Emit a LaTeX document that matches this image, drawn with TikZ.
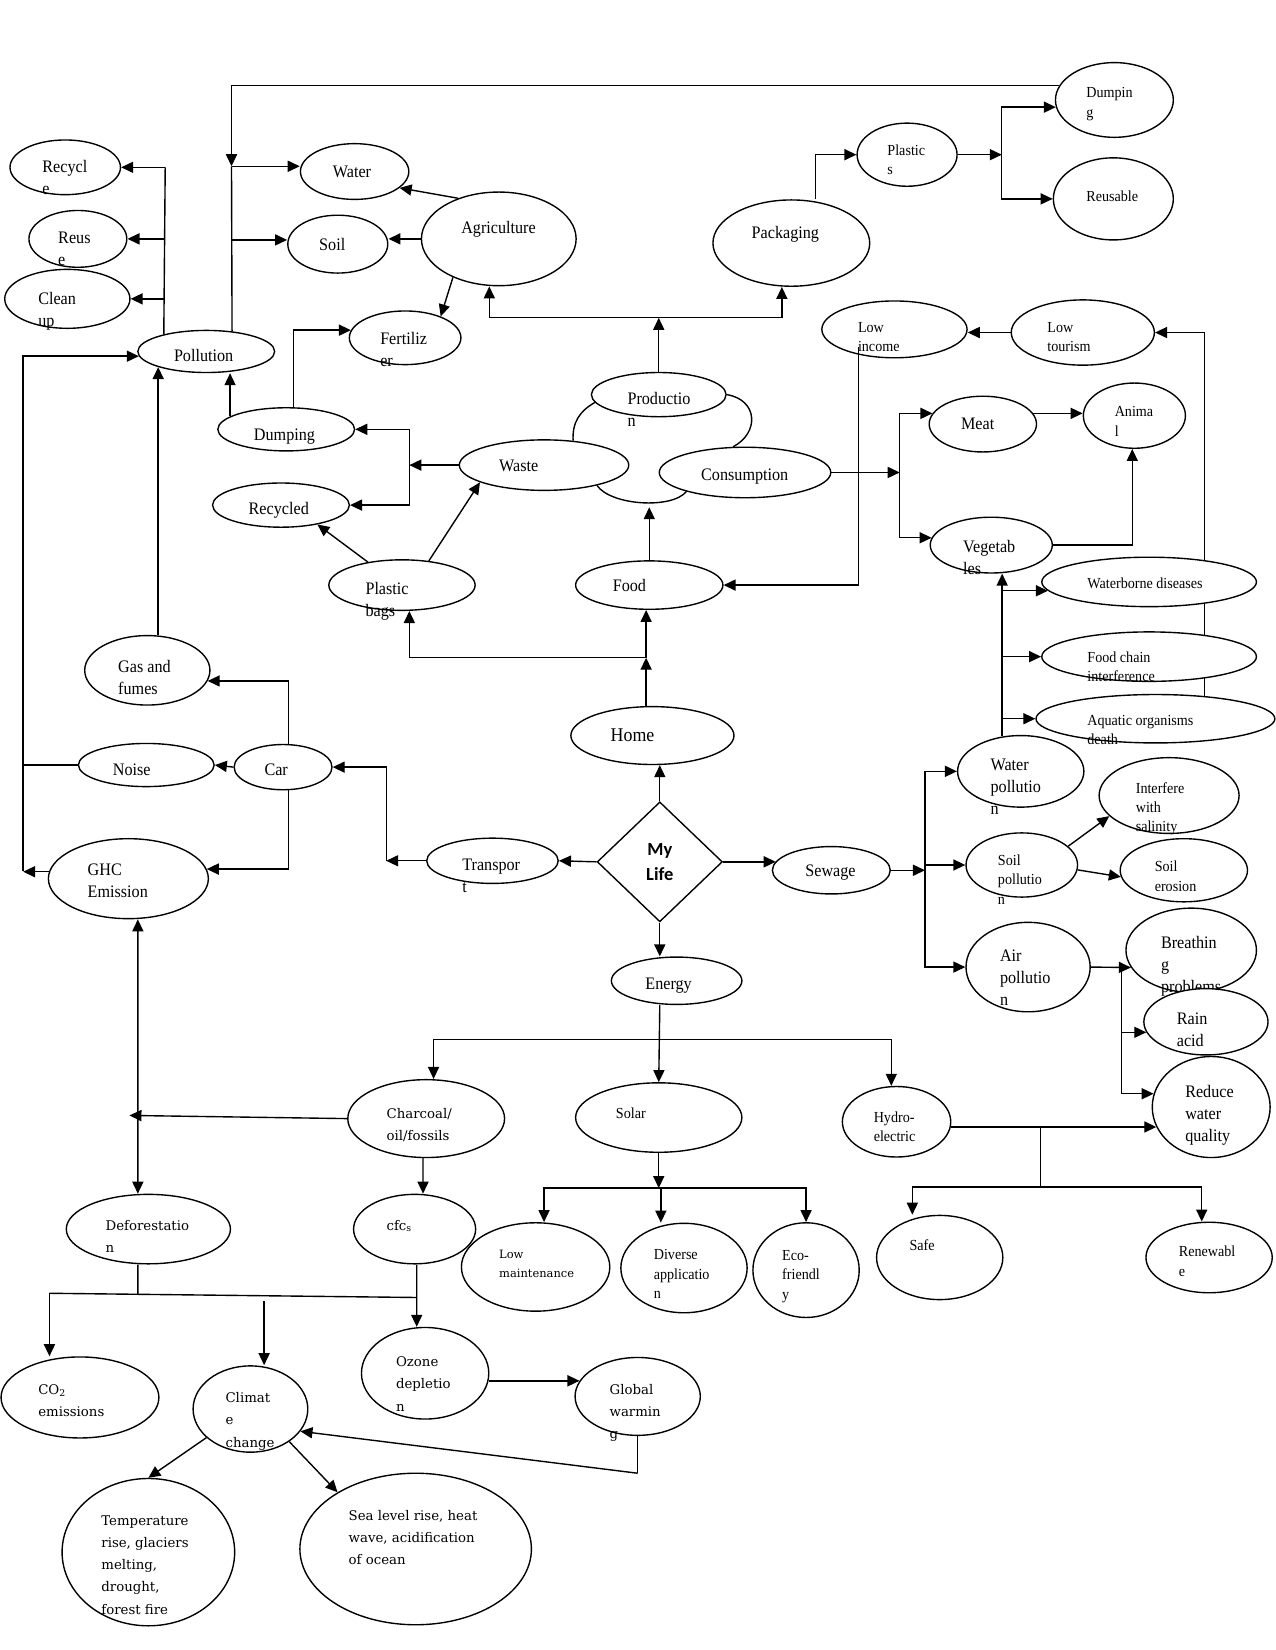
\documentclass[tikz,border=0pt]{standalone}
\usepackage{fontspec}
\newfontfamily\libser{Liberation Serif}[FakeStretch=0.92]
\newfontfamily\dvser{DejaVu Serif}
\newfontfamily\carl{Carlito}
\usetikzlibrary{shapes.geometric, arrows.meta, backgrounds}

\begin{document}
\begin{tikzpicture}[x=0.02cm, y=-0.02cm,
        bub/.style 2 args={ellipse, draw, fill=white, line width=0.75pt, inner sep=0pt, minimum width=#1*0.02cm, minimum height=#2*0.02cm},
        tb/.style={anchor=north west, inner sep=0pt, align=left, font=\libser\fontsize{9.5}{11.9}\selectfont},
        ts/.style={anchor=north west, inner sep=0pt, align=left, font=\libser\fontsize{8.3}{10.5}\selectfont},
        td/.style={anchor=north west, inner sep=0pt, align=left, font=\dvser\fontsize{7.2}{12}\selectfont},
        line/.style={draw, line width=0.75pt},
        arr/.style={line, -{Triangle[length=6.5pt, width=6pt]}}]

    \useasboundingbox (0,0) rectangle (1212,1568);

    % upper part
    \node [bub={112}{71}] (dumpT) at (1059,95) {};
    \node [ts] (t-dumpT) at (1032,83) {Dumpin\\g};
    \node [bub={114}{78}] (reusable) at (1058,189) {};
    \node [ts] (t-reusable) at (1032,181) {Reusable};
    \node [bub={95}{60}] (plastics) at (862,147) {};
    \node [ts] (t-plastics) at (843,137) {Plastic\\s};
    \node [bub={149}{82}] (packaging) at (752,231) {};
    \node [tb] (t-packaging) at (714,215) {Packaging};
    \node [bub={147}{89}] (agri) at (474,227) {};
    \node [tb] (t-agri) at (438,210) {Agriculture};
    \node [bub={103}{53}] (water) at (337,163) {};
    \node [tb] (t-water) at (316,157) {Water};
    \node [bub={95}{55}] (soil) at (321,232) {};
    \node [tb] (t-soil) at (303,226) {Soil};
    \node [bub={105}{52}] (recycle) at (62,159) {};
    \node [tb] (t-recycle) at (40,152) {Recycl\\e};
    \node [bub={93}{54}] (reuse) at (74,227) {};
    \node [tb] (t-reuse) at (55,220) {Reus\\e};
    \node [bub={119}{56}] (cleanup) at (64,284) {};
    \node [tb] (t-cleanup) at (36,277) {Clean\\up};
    \node [bub={130}{40}] (pollution) at (196,334) {};
    \node [tb] (t-pollution) at (165,332) {Pollution};
    \node [bub={106}{51}] (fert) at (385,321) {};
    \node [tb] (t-fert) at (361,315) {Fertiliz\\er};
    \node [bub={138}{54}] (lowinc) at (850,313) {};
    \node [ts] (t-lowinc) at (815,306) {Low\\income};
    \node [bub={136}{62}] (lowtour) at (1029,316) {};
    \node [ts] (t-lowtour) at (995,306) {Low\\tourism};

    % middle part
    \node [bub={128}{42}] (prod) at (626,375) {};
    \node [tb] (t-prod) at (596,372) {Productio\\n};
    \node [bub={130}{41}] (dumpL) at (272,408) {};
    \node [tb] (t-dumpL) at (241,407) {Dumping};
    \node [bub={161}{48}] (waste) at (517,442) {};
    \node [tb] (t-waste) at (474,437) {Waste};
    \node [bub={163}{48}] (consum) at (708,449) {};
    \node [tb] (t-consum) at (666,445) {Consumption};
    \node [bub={130}{42}] (recycled) at (267,480) {};
    \node [tb] (t-recycled) at (236,477) {Recycled};
    \node [bub={102}{53}] (meat) at (934,403) {};
    \node [tb] (t-meat) at (913,397) {Meat};
    \node [bub={97}{62}] (animal) at (1078,395) {};
    \node [ts] (t-animal) at (1059,386) {Anima\\l};
    \node [bub={116}{53}] (veg) at (942,518) {};
    \node [tb] (t-veg) at (915,513) {Vegetab\\les};
    \node [bub={139}{48}] (pbags) at (382,556) {};
    \node [tb] (t-pbags) at (347,553) {Plastic\\bags};
    \node [bub={140}{46}] (food) at (617,556) {};
    \node [tb] (t-food) at (582,550) {Food};
    \node [bub={204}{47}] (wborne) at (1092,553) {};
    \node [ts] (t-wborne) at (1033,549) {Waterborne diseases};
    \node [bub={204}{47}] (fchain) at (1092,624) {};
    \node [ts] (t-fchain) at (1033,619) {Food chain\\interference};
    \node [bub={227}{46}] (aquatic) at (1098,683) {};
    \node [ts] (t-aquatic) at (1033,679) {Aquatic organisms\\death};
    \node [bub={119}{66}] (gas) at (140,637) {};
    \node [tb] (t-gas) at (112,627) {Gas and\\fumes};
    \node [bub={155}{55}] (home) at (620,699) {};
    \node [tb, font=\libser\fontsize{10.5}{12}\selectfont] (t-home) at (580,692) {Home};
    \node [bub={129}{41}] (noise) at (139,727) {};
    \node [tb] (t-noise) at (107,726) {Noise};
    \node [bub={93}{43}] (car) at (269,729) {};
    \node [tb] (t-car) at (251,726) {Car};
    \node [bub={120}{68}] (wpoll) at (970,733) {};
    \node [tb] (t-wpoll) at (941,721) {Water\\pollutio\\n};
    \node [bub={133}{72}] (interfere) at (1111,756) {};
    \node [ts] (t-interfere) at (1079,743) {Interfere\\with\\salinity};
    \node [diamond, draw, fill=white, line width=0.75pt, inner sep=0pt, minimum width=119*0.02cm, minimum height=114*0.02cm, align=center, font=\carl\bfseries\fontsize{10}{13.6}\selectfont] (mylife) at (627,819) {My\\Life};
    \node [bub={125}{43}] (transport) at (468,818) {};
    \node [tb] (t-transport) at (439,816) {Transpor\\t};
    \node [bub={112}{45}] (sewage) at (790,827) {};
    \node [tb] (t-sewage) at (765,822) {Sewage};
    \node [bub={152}{76}] (ghc) at (122,835) {};
    \node [tb] (t-ghc) at (83,821) {GHC\\Emission};
    \node [bub={106}{61}] (spoll) at (971,822) {};
    \node [ts] (t-spoll) at (948,812) {Soil\\pollutio\\n};
    \node [bub={121}{60}] (serosion) at (1125,827) {};
    \node [ts] (t-serosion) at (1097,818) {Soil\\erosion};
    \node [bub={118}{85}] (airpoll) at (977,919) {};
    \node [tb] (t-airpoll) at (950,902) {Air\\pollutio\\n};
    \node [bub={124}{80}] (breath) at (1132,903) {};
    \node [tb] (t-breath) at (1103,889) {Breathin\\g\\problems};
    \node [bub={118}{63}] (rain) at (1146,971) {};
    \node [tb] (t-rain) at (1118,962) {Rain\\acid};
    \node [bub={112}{96}] (reduce) at (1151,1052) {};
    \node [tb] (t-reduce) at (1126,1031) {Reduce\\water\\quality};
    \node [bub={124}{45}] (energy) at (643,932) {};
    \node [tb] (t-energy) at (613,929) {Energy};

    % lower part
    \node [bub={149}{74}] (charcoal) at (405,1063) {};
    \node [td] (t-charcoal) at (367,1053) {Charcoal/\\oil/fossils};
    \node [bub={158}{66}] (solar) at (626,1062) {};
    \node [ts] (t-solar) at (585,1052) {Solar};
    \node [bub={103}{67}] (hydro) at (852,1066) {};
    \node [ts] (t-hydro) at (830,1056) {Hydro-\\electric};
    \node [bub={156}{66}] (defor) at (141,1168) {};
    \node [td] (t-defor) at (100,1159) {Deforestatio\\n};
    \node [bub={116}{66}] (cfcs) at (394,1168) {};
    \node [td] (t-cfcs) at (367,1159) {cfc\textsubscript{s}};
    \node [bub={141}{84}] (lowmaint) at (509,1204) {};
    \node [td, font=\dvser\fontsize{6.2}{10.3}\selectfont] (t-lowmaint) at (474,1188) {Low\\maintenance};
    \node [bub={120}{85}] (diverse) at (650,1205) {};
    \node [ts] (t-diverse) at (621,1187) {Diverse\\applicatio\\n};
    \node [bub={101}{90}] (eco) at (766,1207) {};
    \node [ts] (t-eco) at (743,1188) {Eco-\\friendl\\y};
    \node [bub={120}{80}] (safe) at (893,1195) {};
    \node [ts] (t-safe) at (864,1178) {Safe};
    \node [bub={120}{67}] (renew) at (1149,1195) {};
    \node [ts] (t-renew) at (1120,1184) {Renewabl\\e};
    \node [bub={150}{77}] (co2) at (76,1328) {};
    \node [td] (t-co2) at (36,1315) {CO\textsubscript{2}\\emissions};
    \node [bub={109}{82}] (climate) at (238,1339) {};
    \node [td] (t-climate) at (214,1323) {Climat\\e\\change};
    \node [bub={121}{87}] (ozone) at (404,1305) {};
    \node [td] (t-ozone) at (376,1289) {Ozone\\depletio\\n};
    \node [bub={119}{74}] (global) at (606,1327) {};
    \node [td] (t-global) at (579,1315) {Global\\warmin\\g};
    \node [bub={164}{140}] (temp) at (141,1475) {};
    \node [td] (t-temp) at (96,1440) {Temperature\\rise, glaciers\\melting,\\drought,\\forest fire};
    \node [bub={220}{144}] (sea) at (395,1472) {};
    \node [td] (t-sea) at (331,1435) {Sea level rise, heat\\wave, acidification\\of ocean};

    % junctions
    \coordinate (jw) at (220,158);
    \coordinate (js) at (220,228);
    \coordinate (jr) at (157,159);
    \coordinate (pj) at (628,302);
    \coordinate (pk) at (952,147);
    \coordinate (wj) at (389,442);
    \coordinate (fc) at (614,482);
    \coordinate (cj) at (855,449);
    \coordinate (wv) at (wpoll.118);
    \coordinate (hj) at (614,625);
    \coordinate (tj) at (367,818);
    \coordinate (lb) at (22,828);
    \coordinate (sj) at (879,822);
    \coordinate (aj) at (1066,919);
    \coordinate (hyj) at (989,1071);
    \coordinate (hyb) at (989,1128);
    \coordinate (ej) at (627,988);
    \coordinate (soj) at (628,1129);
    \coordinate (cl) at (123,1060);
    \coordinate (dj) at (131,1230);
    \coordinate (dl) at (47,1229);
    \coordinate (dr) at (396,1233);
    \coordinate (dc) at (251,1236);
    \coordinate (gj) at (606,1400);

    \begin{scope}[on background layer]
        \path [arr] (aquatic.25) |- (lowtour.east);
    \end{scope}

    \path [arr] (dumpT.165) -| (jw);
    \path [line] (pollution.38) -- (jw);
    \path [arr] (jw) -- (jw -| water.west);
    \path [arr] (js) -- (js -| soil.west);
    \path [line] (pollution.158) -- (jr);
    \path [arr] (jr) -- (jr -| recycle.east);
    \path [arr] (jr |- reuse.east) -- (reuse.east);
    \path [arr] (jr |- cleanup.east) -- (cleanup.east);
    \path [arr] (agri.135) -- (water.340);
    \path [arr] (agri.west) -- (agri.west -| soil.east);
    \path [arr] (agri.220) -- (fert.31);
    \path [arr] (prod.north) -- (prod.north |- pj);
    \path [arr] (pj) -| ([xshift=-0.18cm]agri.south);
    \path [arr] (pj) -| ([xshift=-0.18cm]packaging.south);
    \path [arr] ([xshift=0.46cm]packaging.north) |- (plastics.west);
    \path [arr] (plastics.east) -- (pk);
    \path [arr] (pk) |- (dumpT.187);
    \path [arr] (pk) |- (reusable.west);
    \path [arr] (dumpL.167) -- (dumpL.167 |- pollution.south);
    \path [arr] ([xshift=0.14cm]dumpL.north) |- (fert.172);
    \path [arr] (waste.west) -- (wj);
    \path [arr] (wj) |- (dumpL.east);
    \path [arr] (wj) |- (recycled.east);
    \path [arr] (pbags.146) -- (recycled.332);
    \path [arr] (pbags.42) -- (waste.195);
    \path [line] (prod.187) .. controls +(-14,8) and +(-1,-18) .. (waste.40);
    \path [line] (prod.east) .. controls +(30,5) and +(25,-13) .. (consum.115);
    \path [line] (waste.339) .. controls +(13,19) and +(-14,17) .. (consum.198);
    \path [arr] (food.north) -- (food.north |- fc);
    \path [arr] (consum.east) -- (cj);
    \path [arr] (cj) |- (meat.168);
    \path [arr] (cj) |- (veg.173);
    \path [arr] (meat.12) -- (meat.12 -| animal.west);
    \path [arr] (veg.east) -| ([xshift=-0.04cm]animal.south);
    \path [arr] (lowtour.west) -- (lowtour.west -| lowinc.east);
    \path [arr] ([shift={(-34,17)}]lowinc.center) |- (food.east);
    \path [arr] (wv) -- (wv |- veg.south);
    \path [arr] (wv |- wborne.185) -- (wborne.185);
    \path [arr] (wv |- fchain.west) -- (fchain.west);
    \path [arr] (wv |- aquatic.west) -- (aquatic.west);
    \path [arr] (home.north -| hj) -- (hj);
    \path [arr] (hj) -- (hj |- food.south);
    \path [arr] (hj) -| ([xshift=0.14cm]pbags.south);
    \path [arr] (mylife.north) -- (mylife.north |- home.south);
    \path [arr] (mylife.west) -- (transport.east);
    \path [arr] (mylife.east) -- (mylife.east -| sewage.171);
    \path [arr] (mylife.south) -- (mylife.south |- energy.north);
    \path [arr] (transport.west) -- (tj);
    \path [arr] (tj) |- (car.east);
    \path [arr] (car.west) -- (noise.east);
    \path [arr] ([xshift=0.1cm]car.north) |- (gas.-10);
    \path [arr] ([xshift=0.1cm]car.south) |- (ghc.7);
    \path [arr] (ghc.175) -- (ghc.175 -| lb);
    \path [arr] (lb) |- (pollution.184);
    \path [line] (noise.west) -- (noise.west -| lb);
    \path [arr] (gas.north -| pollution.198) -- (pollution.198);
    \path [arr] (sewage.east) -- (sewage.east -| sj);
    \path [arr] (sj) -- (spoll.west);
    \path [arr] (sj) |- (wpoll.west);
    \path [arr] (sj) |- (airpoll.west);
    \path [arr] (spoll.22) -- (interfere.199);
    \path [arr] (spoll.-5) -- (serosion.186);
    \path [arr] (airpoll.east) -- (breath.196);
    \path [arr] (aj) |- (rain.190);
    \path [arr] (aj) |- (reduce.167);
    \path [arr] (hydro.east |- reduce.200) -- (reduce.200);
    \path [line] (hyj) -- (hyb);
    \path [arr] (hyb) -| ([xshift=-0.52cm]safe.north);
    \path [arr] (hyb) -| ([xshift=-0.14cm]renew.north);
    \path [arr] (energy.south -| mylife.south) -- (solar.north);
    \path [arr] (ej) -| ([xshift=0.14cm]charcoal.north);
    \path [arr] (ej) -| ([xshift=-0.1cm]hydro.north);
    \path [arr] (solar.south) -- (solar.south |- soj);
    \path [arr] (soj) -| ([xshift=0.16cm]lowmaint.north);
    \path [arr] (soj) -- (soj |- diverse.north);
    \path [arr] (soj) -| (eco.north);
    \path [arr] ([xshift=-0.06cm]charcoal.south) -- ([xshift=0.16cm]cfcs.north);
    \path [arr] (charcoal.west) -- (cl);
    \path [line, {Triangle[length=6.5pt, width=6pt]}-{Triangle[length=6.5pt, width=6pt]}] ([xshift=0.18cm]ghc.south) -- ([xshift=-0.2cm]defor.north);
    \path [line] ([xshift=-0.2cm]defor.south) -- (dj);
    \path [line] (dl) -- (dr);
    \path [arr] (dl) -- (dl |- co2.north);
    \path [arr] (dc) -- (dc |- climate.north);
    \path [arr] ([xshift=0.04cm]cfcs.south) -- ([xshift=-0.16cm]ozone.north);
    \path [arr] (ozone.east |- global.165) -- (global.165);
    \path [line] (global.south) -- (gj);
    \path [arr] (gj) -- (climate.336);
    \path [arr] (climate.213) -- (temp.north);
    \path [arr] (climate.320) -- (sea.144);
\end{tikzpicture}
\end{document}
